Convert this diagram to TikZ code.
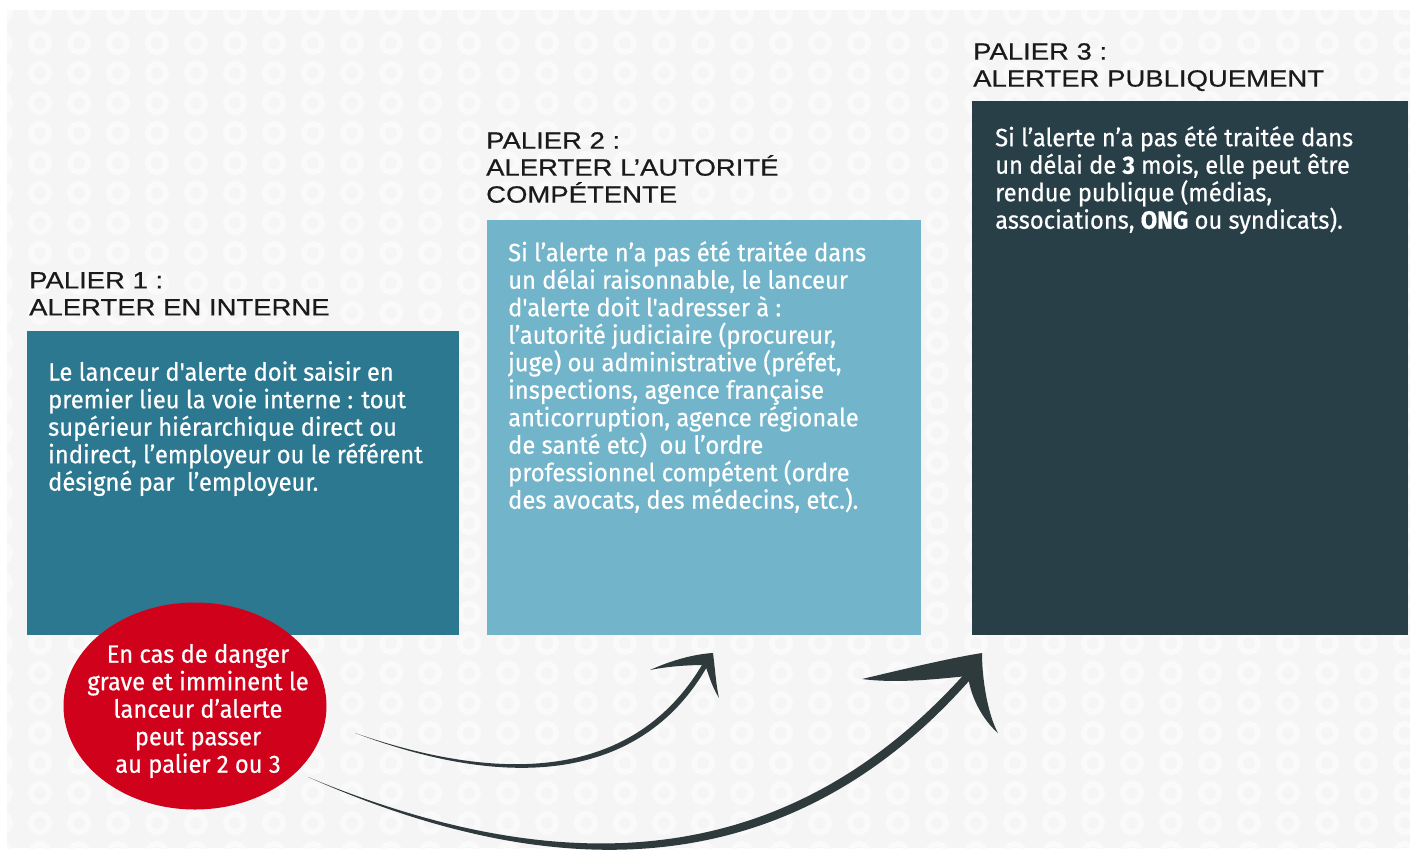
\documentclass[tikz,border=0pt]{standalone}
\usepackage{fontspec}
\setmainfont{Liberation Sans}
\newfontfamily\headfont[FakeStretch=1.17,FakeBold=0.6]{Liberation Sans}
\newfontfamily\bodyfont[FakeStretch=0.95,FakeBold=0.5,Ligatures=TeXOff]{Fira Sans}
\usepackage{tikz}
\usetikzlibrary{shapes.geometric,calc}
\definecolor{panelgrey}{HTML}{F5F5F5}
\definecolor{ringgrey}{HTML}{FAFAFA}
\definecolor{palierone}{HTML}{2D7891}
\definecolor{paliertwo}{HTML}{72B5CB}
\definecolor{palierthree}{HTML}{283F48}
\definecolor{dangerred}{HTML}{D0011B}
\definecolor{arrowgrey}{HTML}{2F3A3D}
\definecolor{headblack}{HTML}{1A1A1A}

\begin{document}
\begin{tikzpicture}[x=1pt,y=-1pt,
    palier/.style={anchor=north west,inner sep=0pt,outer sep=0pt},
    head/.style={anchor=north west,inner sep=0pt,align=left,text=headblack,
      font=\headfont\fontsize{23.5}{27}\selectfont},
    body/.style={anchor=north west,inner sep=0pt,align=left,text=white,
      font=\bodyfont\fontsize{25}{27.5}\selectfont},
    swoosh/.style={fill=arrowgrey}]
      \useasboundingbox (0,0) rectangle (1414,852);
      \fill[white] (0,0) rectangle (1414,852);
      \fill[panelgrey] (7,10) rectangle (1410,848);
      % rings of the background
      \begin{scope}
        \clip (7,10) rectangle (1410,848);
        \foreach \i in {0,...,36}
          \foreach \j in {0,...,28}
            \draw[ringgrey,line width=6pt] (1+39*\i,13+30*\j) circle [radius=9];
      \end{scope}

      \node[palier,fill=palierone,minimum width=432pt,minimum height=304pt] (box1) at (27,331) {};
      \node[palier,fill=paliertwo,minimum width=434pt,minimum height=415pt] (box2) at (487,220) {};
      \node[palier,fill=palierthree,minimum width=436pt,minimum height=534pt] (box3) at (972,101) {};

      \node[head] (head1) at (29,272) {PALIER 1 :\\ALERTER EN INTERNE};
      \node[head] (head2) at (486,132) {PALIER 2 :\\ALERTER L’AUTORITÉ\\COMPÉTENTE};
      \node[head] (head3) at (973,43) {PALIER 3 :\\ALERTER PUBLIQUEMENT};

      \node[body] (txt1) at (48,361) {Le lanceur d'alerte doit saisir en\\
        premier lieu la voie interne : tout\\
        supérieur hiérarchique direct ou\\
        indirect, l’employeur ou le référent\\
        désigné par\ \ l’employeur.};
      \node[body] (txt2) at (508,241) {Si l’alerte n’a pas été traitée dans\\
        un délai raisonnable, le lanceur\\
        d'alerte doit l'adresser à :\\
        l’autorité judiciaire (procureur,\\
        juge) ou administrative (préfet,\\
        inspections, agence française\\
        anticorruption, agence régionale\\
        de santé etc)\ \ ou l’ordre\\
        professionnel compétent (ordre\\
        des avocats, des médecins, etc.).};
      \node[body] (txt3) at (995,126) {Si l’alerte n’a pas été traitée dans\\
        un délai de \textbf{3} mois, elle peut être\\
        rendue publique (médias,\\
        associations, \textbf{ONG} ou syndicats).};

      \node[ellipse,fill=dangerred,inner sep=0pt,minimum width=263pt,minimum height=207pt] (danger) at (195,706) {};
      \node[body,anchor=center,align=center] (dangertxt) at (198,711) {En cas de danger\\
        grave et imminent le\\lanceur d’alerte\\peut passer\\au palier 2 ou 3};

      % arrow to palier 2
      \coordinate (s1) at (355,733);
      \coordinate (j1) at (705,665);
      \coordinate (t1) at (713,653);
      \coordinate (l1) at (650,670);
      \coordinate (b1) at (719,698);
      \fill[swoosh] (s1) .. controls (520,790) and (640,770) .. ($(j1)+(-2.2,-1.4)$)
        -- ($(j1)+(2.2,1.4)$) .. controls (645,775) and (520,795) .. (s1) -- cycle;
      \fill[swoosh] (t1) .. controls (715,668) and (716,685) .. (b1)
        .. controls (711,685) and (708,672) .. (j1)
        .. controls (690,665) and (670,666) .. (l1)
        .. controls (672,660) and (695,654) .. (t1) -- cycle;

      % arrow to palier 3
      \coordinate (s2) at (308,777);
      \coordinate (j2) at (968,676);
      \coordinate (t2) at (982,653);
      \coordinate (l2) at (862,679);
      \coordinate (b2) at (998,733);
      \fill[swoosh] (s2) .. controls (600,898) and (808,848) .. ($(j2)+(-3,-2.7)$)
        -- ($(j2)+(3,2.7)$) .. controls (815,856) and (600,907) .. (s2) -- cycle;
      \fill[swoosh] (t2) .. controls (982,680) and (988,715) .. (b2)
        .. controls (985,722) and (971,700) .. (j2)
        .. controls (945,678) and (900,684) .. (l2)
        .. controls (900,670) and (950,658) .. (t2) -- cycle;
\end{tikzpicture}
\end{document}
